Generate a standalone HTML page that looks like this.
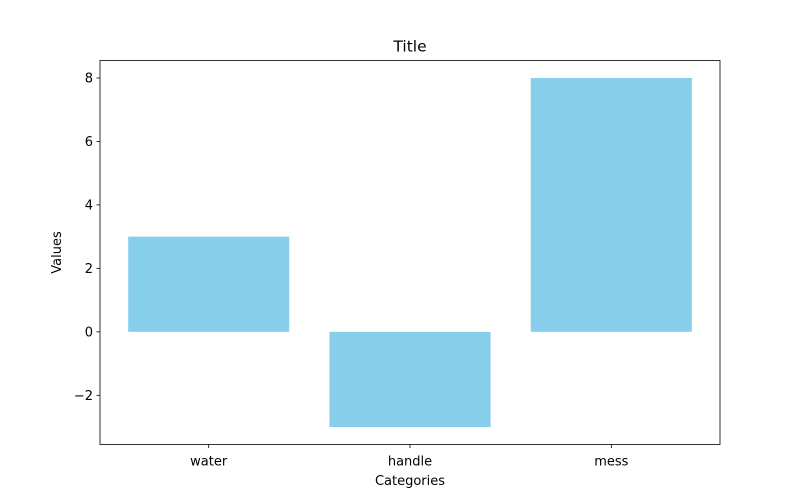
<!DOCTYPE html>
<html><head><meta charset="utf-8"><style>
body{margin:0;background:#fff;font-family:"DejaVu Sans","Liberation Sans",sans-serif;}
svg text{font-family:"DejaVu Sans","Liberation Sans",sans-serif;}
</style></head><body>
<svg id="chart" width="800" height="500"></svg>
<script>
const categories = ["water", "handle", "mess"];
const values = [3, -3, 8];
const yTicks = [-2, 0, 2, 4, 6, 8];
const yTickLabels = ["\u22122", "0", "2", "4", "6", "8"];

const L = 100, R = 720, T = 60.5, B = 444.5;
const yMin = -3.55, yMax = 8.55;
const xMin = -0.54, xMax = 2.54;
const xs = v => L + (v - xMin) / (xMax - xMin) * (R - L);
const ys = v => B - (v - yMin) / (yMax - yMin) * (B - T);
const NS = "http://www.w3.org/2000/svg";
const svg = document.getElementById("chart");
function mk(tag, attrs, text) {
  const e = document.createElementNS(NS, tag);
  for (const k in attrs) e.setAttribute(k, attrs[k]);
  if (text !== undefined) e.textContent = text;
  svg.appendChild(e);
  return e;
}
categories.forEach((c, i) => {
  const v = values[i];
  const x0 = xs(i - 0.4), x1 = xs(i + 0.4);
  const y0 = ys(Math.max(v, 0)), y1 = ys(Math.min(v, 0));
  const r = mk("rect", {x: x0, y: y0, width: x1 - x0, height: y1 - y0, fill: "#87ceeb"});
  
  
  const t = mk("line", {x1: xs(i), x2: xs(i), y1: B, y2: B + 3.5, stroke: "#000", "stroke-width": 0.8});
  
  
  const lb = mk("text", {x: xs(i), y: B + 21, "text-anchor": "middle", "font-size": 13}, c);
  
  
});
yTicks.forEach((v, i) => {
  const t = mk("line", {x1: L - 3.5, x2: L, y1: ys(v), y2: ys(v), stroke: "#000", "stroke-width": 0.8});
  
  
  const lb = mk("text", {x: L - 7, y: ys(v) + 4.5, "text-anchor": "end", "font-size": 13}, yTickLabels[i]);
  
  
});
const frame = mk("rect", {x: L, y: T, width: R - L, height: B - T, fill: "none", stroke: "#000", "stroke-width": 0.8});


const title = mk("text", {x: (L + R) / 2, y: T - 9, "text-anchor": "middle", "font-size": 15.5}, "Title");


const xt = mk("text", {x: (L + R) / 2, y: 485, "text-anchor": "middle", "font-size": 13}, "Categories");


const yt = mk("text", {x: 61, y: (T + B) / 2, "text-anchor": "middle", "font-size": 13, transform: "rotate(-90 61 " + (T + B) / 2 + ")"}, "Values");


</script>
</body></html>
